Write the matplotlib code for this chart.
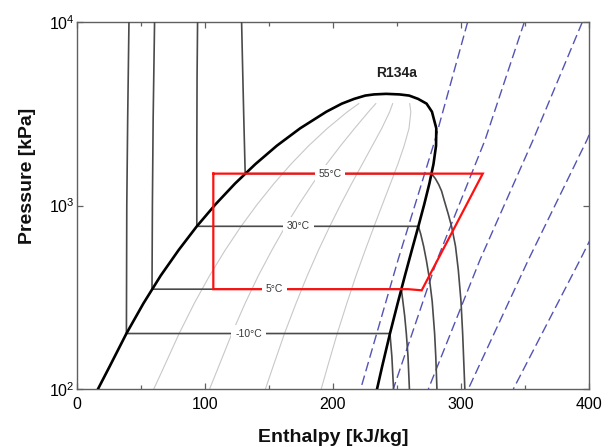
import matplotlib
matplotlib.use('Agg')
import matplotlib.pyplot as plt
from matplotlib.ticker import FixedLocator, NullLocator, LogFormatterMathtext

plt.rcParams['font.family'] = ['Liberation Sans', 'DejaVu Sans']
plt.rcParams['mathtext.fontset'] = 'custom'
plt.rcParams['mathtext.rm'] = 'Liberation Sans'
plt.rcParams['mathtext.it'] = 'Liberation Sans:italic'
plt.rcParams['mathtext.bf'] = 'Liberation Sans:bold'

# ---- saturation dome (R134a), P in kPa, h in kJ/kg ----
sat_P = [84.4, 100, 132.7, 200.6, 292.8, 414.9, 571.7, 770.2, 1016.5, 1317.9,
         1681.8, 2116.8, 2632.9, 3243.5, 3589.7, 3810, 3972.4, 4030, 4059.3]
sat_hf = [12.7, 16.4, 25.5, 38.6, 51.9, 65.4, 79.4, 93.6, 108.3, 123.5,
          139.4, 156.1, 174.3, 194.8, 206.9, 216.5, 225.2, 232.0, 241.5]
sat_hg = [232.2, 234.4, 238.4, 244.5, 250.5, 256.2, 261.6, 266.7, 271.3, 275.3,
          278.5, 280.5, 280.7, 277.3, 273.1, 266.5, 259.5, 252.0, 241.5]

# ---- constant quality lines ----
q_P = [100, 132.7, 200.6, 292.8, 414.9, 571.7, 770.2, 1016.5, 1317.9,
       1681.8, 2116.8, 2632.9, 3243.5, 3589.7]
q20_h = [60.0, 68.1, 79.8, 91.6, 103.6, 115.8, 128.2, 140.9, 153.9, 167.2, 181.0, 195.6, 211.3, 220.1]
q40_h = [103.6, 110.7, 121.0, 131.3, 141.7, 152.3, 162.8, 173.5, 184.2, 195.0, 205.9, 216.9, 227.8, 233.4]
q60_h = [147.2, 153.2, 162.1, 171.1, 179.9, 188.7, 197.5, 206.1, 214.6, 222.9, 230.7, 238.1, 244.3, 246.6]
q80_h = [190.8, 195.8, 203.3, 210.8, 218.0, 225.2, 232.1, 238.7, 244.9, 250.7, 255.6, 259.4, 260.8, 259.9]

# ---- isotherms ----
tm10_h = [40.6, 39.6, 38.9, 38.6, 244.5, 246.0, 247.3]
tm10_P = [10000, 3000, 1000, 200.6, 200.6, 150, 100]
t5_h = [60.6, 59.5, 58.9, 58.6, 253.4, 254.6, 256.0, 257.3, 258.6, 259.7]
t5_P = [10000, 3000, 1000, 349.9, 349.9, 300, 250, 200, 150, 100]
t30_h = [94.2, 93.8, 93.6, 93.6, 266.7, 268.5, 270.8, 273.0, 275.3, 277.5, 279.4, 280.3, 281.2]
t30_P = [10000, 5000, 2000, 770.2, 770.2, 700, 600, 500, 400, 300, 200, 150, 100]
t55_h = [128.6, 129.3, 130.3, 131.4, 277.0, 280.0, 282.6, 284.8, 286.8, 290.0, 292.7,
         295.7, 297.9, 300.0, 301.3, 303.0]
t55_P = [10000, 6000, 3000, 1491.6, 1491.6, 1400, 1300, 1200, 1072, 900, 766,
         600, 445, 300, 200, 100]

iso_labels = ['-10°C', '5°C', '30°C', '55°C']
iso_label_h = [134.0, 154.0, 173.0, 197.7]
iso_label_P = [200.6, 349.9, 770.2, 1491.6]

# ---- isentropes ----
s_P = [10000, 2275, 505, 100]
s1_h = [305.2, 279.7, 250.8, 221.6]
s2_h = [349.5, 318.8, 281.3, 247.1]
s3_h = [394.8, 356.3, 314.8, 274.5]
s4_h = [437.0, 398.4, 352.6, 305.7]
s5_h = [478.0, 440.0, 393.0, 340.9]

# ---- refrigeration cycle ----
cyc_h = [106.5, 317.0, 269.3, 258.8, 106.5, 106.5]
cyc_P = [1491.6, 1491.6, 345, 349.9, 349.9, 1491.6]

fig = plt.figure(figsize=(6.10, 4.47), dpi=100)
ax = fig.add_axes([77/610, 1-389/447, 512/610, 367/447])
ax.set_yscale('log')
ax.set_xlim(0, 400)
ax.set_ylim(100, 10000)

qcol = '#c8c8c8'
for qh in (q20_h, q40_h, q60_h, q80_h):
    ax.plot(qh, q_P, color=qcol, lw=0.8, zorder=1)

scol = '#5353b3'
for sh in (s1_h, s2_h, s3_h, s4_h, s5_h):
    ax.plot(sh, s_P, color=scol, lw=1.0, dashes=(7, 3.2), zorder=2)

tcol = '#4a4a4a'
for th, tp in ((tm10_h, tm10_P), (t5_h, t5_P), (t30_h, t30_P), (t55_h, t55_P)):
    ax.plot(th, tp, color=tcol, lw=1.2, zorder=3)

ax.plot(sat_hf + sat_hg[::-1], sat_P + sat_P[::-1], color='black', lw=1.9, zorder=4)

ax.plot(cyc_h, cyc_P, color='#ff1010', lw=1.6, zorder=5, solid_joinstyle='miter')

for lab, lh, lp in zip(iso_labels, iso_label_h, iso_label_P):
    ax.text(lh, lp, lab, ha='center', va='center', fontsize=7.5, color='#3a3a3a',
            zorder=6, bbox=dict(facecolor='white', edgecolor='none', pad=2.8))

ax.text(249.8, 5270, 'R134a', ha='center', va='center', fontsize=10,
        fontweight='bold', color='#202020', zorder=6)

ax.xaxis.set_major_locator(FixedLocator([0, 100, 200, 300, 400]))
ax.xaxis.set_minor_locator(FixedLocator([50, 150, 250, 350]))
ax.yaxis.set_major_locator(FixedLocator([100, 1000, 10000]))
ax.yaxis.set_major_formatter(LogFormatterMathtext())
ax.yaxis.set_minor_locator(NullLocator())
ax.tick_params(axis='both', which='both', direction='in', top=True, right=True,
               color='#606060', width=0.9)
ax.tick_params(axis='x', which='major', length=4, labelsize=11.5, pad=6)
ax.tick_params(axis='x', which='minor', length=3)
ax.tick_params(axis='y', which='major', length=4, labelsize=11.5, pad=1.5)
for sp in ax.spines.values():
    sp.set_color('#606060')
    sp.set_linewidth(1.0)

fig.text(333/610, 1-442/447, 'Enthalpy [kJ/kg]', ha='center', va='baseline',
         fontsize=14, fontweight='bold', color='#101010')
fig.text(32/610, 1-176/447, 'Pressure [kPa]', ha='center', va='baseline',
         rotation=90, rotation_mode='anchor', fontsize=14, fontweight='bold',
         color='#101010')

fig.savefig('out.png', dpi=100)
